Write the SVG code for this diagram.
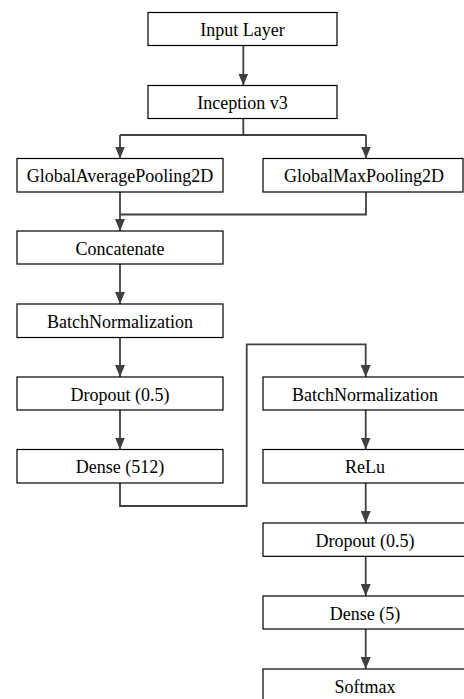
<svg xmlns="http://www.w3.org/2000/svg" width="464" height="699" viewBox="0 0 464 699">
  <style>
    .box rect { fill: #ffffff; stroke: #000000; stroke-width: 1.2; }
    .box text { font-family: "Liberation Serif", "Times New Roman", serif; font-size: 18px; fill: #000000; text-anchor: middle; }
    .wire { fill: none; stroke: #404040; stroke-width: 1.8; }
    .arrow { marker-end: url(#head); }
  </style>
  <defs>
    <marker id="head" markerUnits="userSpaceOnUse" markerWidth="12" markerHeight="10" refX="12" refY="5" orient="auto">
      <path d="M0,0 L12,5 L0,10 Z" fill="#404040"/>
    </marker>
  </defs>
  <rect width="464" height="699" fill="#ffffff"/>

  <!-- connectors -->
  <g id="connectors">
    <path class="wire arrow" d="M243.3 46 V85.5"/>
    <path class="wire" d="M243.3 118.5 V135 M120 135 H366"/>
    <path class="wire arrow" d="M120 135 V158.5"/>
    <path class="wire arrow" d="M366 135 V158.5"/>
    <path class="wire" d="M366 192 V214.5 H120"/>
    <path class="wire arrow" d="M120 192 V231"/>
    <path class="wire arrow" d="M120 264 V304"/>
    <path class="wire arrow" d="M120 337.5 V377"/>
    <path class="wire arrow" d="M120 410 V449.5"/>
    <path class="wire arrow" d="M120 483 V506 H246.7 V344.3 H365.7 V377"/>
    <path class="wire arrow" d="M365.7 410 V449.5"/>
    <path class="wire arrow" d="M365.7 483 V523"/>
    <path class="wire arrow" d="M365.7 556.3 V596"/>
    <path class="wire arrow" d="M365.7 629 V669"/>
  </g>

  <!-- layers -->
  <g id="input-layer" class="box"><rect x="148" y="12.5" width="189" height="33"/><text x="242.5" y="36">Input Layer</text></g>
  <g id="inception-v3" class="box"><rect x="148" y="85.5" width="189" height="33"/><text x="242.5" y="109">Inception v3</text></g>
  <g id="global-avg-pool" class="box"><rect x="17" y="158.5" width="206" height="33.5"/><text x="120" y="182">GlobalAveragePooling2D</text></g>
  <g id="global-max-pool" class="box"><rect x="263" y="158.5" width="200" height="33.5"/><text x="364" y="182">GlobalMaxPooling2D</text></g>
  <g id="concatenate" class="box"><rect x="17" y="231" width="206" height="33"/><text x="120" y="254.5">Concatenate</text></g>
  <g id="batchnorm-1" class="box"><rect x="17" y="304" width="206" height="33.5"/><text x="120" y="327.5">BatchNormalization</text></g>
  <g id="dropout-1" class="box"><rect x="17" y="377" width="206" height="33"/><text x="120" y="400.5">Dropout (0.5)</text></g>
  <g id="dense-512" class="box"><rect x="17" y="449.5" width="206" height="33.5"/><text x="120" y="473">Dense (512)</text></g>
  <g id="batchnorm-2" class="box"><rect x="263" y="377" width="202" height="33"/><text x="365" y="400.5">BatchNormalization</text></g>
  <g id="relu" class="box"><rect x="263" y="449.5" width="202" height="33.5"/><text x="365" y="473">ReLu</text></g>
  <g id="dropout-2" class="box"><rect x="263" y="523" width="202" height="33.3"/><text x="365" y="546.5">Dropout (0.5)</text></g>
  <g id="dense-5" class="box"><rect x="263" y="596" width="202" height="33"/><text x="365" y="619.5">Dense (5)</text></g>
  <g id="softmax" class="box"><rect x="263" y="669" width="202" height="33"/><text x="365" y="692.5">Softmax</text></g>
</svg>
